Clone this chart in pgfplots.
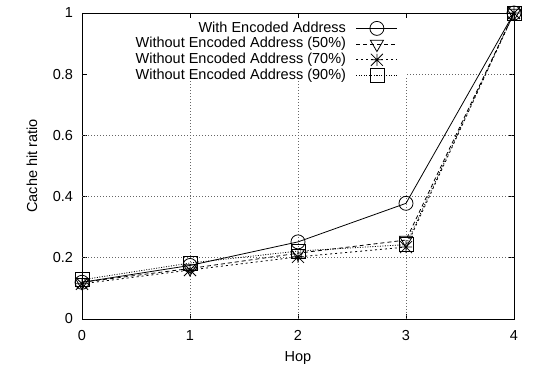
\documentclass[border=0pt]{standalone}
\usepackage{fontspec}
\setmainfont{Liberation Sans}
\usepackage{pgfplots}
\pgfplotsset{compat=1.18}
\pgfdeclareplotmark{plusx}{%
  \pgfpathmoveto{\pgfqpoint{-\pgfplotmarksize}{0pt}}\pgfpathlineto{\pgfqpoint{\pgfplotmarksize}{0pt}}%
  \pgfpathmoveto{\pgfqpoint{0pt}{-\pgfplotmarksize}}\pgfpathlineto{\pgfqpoint{0pt}{\pgfplotmarksize}}%
  \pgfpathmoveto{\pgfqpoint{-\pgfplotmarksize}{-\pgfplotmarksize}}\pgfpathlineto{\pgfqpoint{\pgfplotmarksize}{\pgfplotmarksize}}%
  \pgfpathmoveto{\pgfqpoint{-\pgfplotmarksize}{\pgfplotmarksize}}\pgfpathlineto{\pgfqpoint{\pgfplotmarksize}{-\pgfplotmarksize}}%
  \pgfusepathqstroke}
\tikzset{gridl/.style={black!60, line width=0.7bp, dash pattern=on 1bp off 2bp}}
\begin{document}
\fontsize{14.5bp}{16bp}\selectfont
\begin{tikzpicture}
\useasboundingbox (0,0) rectangle (535bp,368bp);
\begin{axis}[
  at={(82bp,49bp)}, anchor=south west,
  scale only axis, width=432bp, height=306bp,
  xmin=0, xmax=4, ymin=0, ymax=1,
  xtick={0,1,2,3,4}, ytick={0,0.2,0.4,0.6,0.8,1},
  yticklabels={0,0.2,0.4,0.6,0.8,1},
  tick align=inside, major tick length=5bp,
  tick style={black, line width=0.6bp},
  axis line style={black, line width=0.8bp},
  /pgf/number format/assume math mode=true,
  xticklabel style={yshift=-6bp},
  yticklabel style={xshift=-4bp},
  xlabel={Hop}, ylabel={Cache hit ratio},
  xlabel style={at={(axis description cs:0.5,-0.126)}, anchor=center},
  ylabel style={at={(axis description cs:-0.116,0.5)}, anchor=center},
  legend cell align=right, legend plot pos=right,
  legend image code/.code={\draw[mark repeat=2,mark phase=2] plot coordinates {(0bp,0bp) (20.5bp,0bp) (41bp,0bp)};},
  legend style={at={(rel axis cs:0.7315,0.976)}, anchor=north east, draw=none, fill=none, inner sep=0pt,
    nodes={inner xsep=0pt, inner ysep=1bp, text height=10.5bp, text depth=3.2bp},
    /tikz/every odd column/.append style={column sep=10bp}},
]
\draw[gridl] (axis cs:1,0) -- (axis cs:1,0.79);
\draw[gridl] (axis cs:2,0) -- (axis cs:2,0.79);
\draw[gridl] (axis cs:3,0) -- (axis cs:3,0.79);
\draw[gridl] (axis cs:0,0.2) -- (axis cs:4,0.2);
\draw[gridl] (axis cs:0,0.4) -- (axis cs:4,0.4);
\draw[gridl] (axis cs:0,0.6) -- (axis cs:4,0.6);
\draw[gridl] (axis cs:3.01,0.8) -- (axis cs:4,0.8);
\addplot[black, line width=0.8bp, mark=o, mark size=7bp, mark options={solid}]
  coordinates {(0,0.12) (1,0.175) (2,0.252) (3,0.378) (4,1.0)};
\addlegendentry{With Encoded Address}
\addplot[black, line width=0.8bp, dash pattern=on 4bp off 3bp, mark=triangle, mark size=7.5bp, mark options={solid, rotate=180}]
  coordinates {(0,0.12) (1,0.165) (2,0.215) (3,0.258) (4,1.0)};
\addlegendentry{Without Encoded Address (50\%)}
\addplot[black, line width=0.8bp, dash pattern=on 2bp off 3bp, mark=plusx, mark size=6bp, mark options={solid}]
  coordinates {(0,0.115) (1,0.16) (2,0.203) (3,0.235) (4,1.0)};
\addlegendentry{Without Encoded Address (70\%)}
\addplot[black, line width=0.8bp, dash pattern=on 1bp off 1.5bp, mark=square, mark size=7bp, mark options={solid}]
  coordinates {(0,0.128) (1,0.183) (2,0.222) (3,0.243) (4,1.0)};
\addlegendentry{Without Encoded Address (90\%)}
\end{axis}
\end{tikzpicture}
\end{document}
